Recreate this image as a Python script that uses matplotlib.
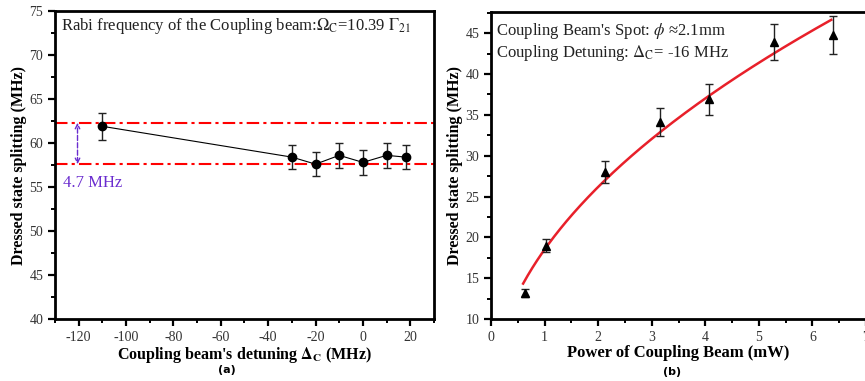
import numpy as np
import matplotlib
matplotlib.use("Agg")
import matplotlib.pyplot as plt
from matplotlib.ticker import MultipleLocator

plt.rcParams['font.family'] = ['Liberation Serif', 'DejaVu Serif']
plt.rcParams['mathtext.fontset'] = 'stix'
plt.rcParams['axes.unicode_minus'] = False

# Panel (a): splitting vs coupling detuning
det_a = [-110, -30, -20, -10, 0, 10, 18]
split_a = [61.9, 58.4, 57.6, 58.6, 57.8, 58.6, 58.4]
err_a = [1.5, 1.4, 1.4, 1.4, 1.4, 1.4, 1.4]
upper_line = 62.3
lower_line = 57.6

# Panel (b): splitting vs coupling power
power_b = [0.63, 1.02, 2.13, 3.15, 4.07, 5.28, 6.39]
split_b = [13.2, 19.0, 28.0, 34.1, 36.9, 43.9, 44.8]
err_b = [0.5, 0.8, 1.3, 1.7, 1.9, 2.2, 2.3]

fig = plt.figure(figsize=(8.65, 3.81), dpi=100)
ax1 = fig.add_axes([0.0636, 0.1627, 0.4381, 0.8083])
ax2 = fig.add_axes([0.5676, 0.1627, 0.4336, 0.8057])

def style(ax):
    for s in ax.spines.values():
        s.set_linewidth(2.0)
    ax.tick_params(which='both', direction='out', top=False, right=False,
                   labelsize=10, colors='black')
    ax.tick_params(which='major', length=5, width=1.6)
    ax.tick_params(which='minor', length=3, width=1.4)
    for lab in ax.get_xticklabels() + ax.get_yticklabels():
        lab.set_color('#333333')

dashdot = (0, (6, 2, 1.5, 2))

# ---- panel (a)
ax1.errorbar(det_a, split_a, yerr=err_a, fmt='o', color='black', ms=6,
             ecolor='#222222', elinewidth=1.0, capsize=3, capthick=1.0, zorder=3)
ax1.plot(det_a, split_a, '-', color='black', lw=0.8, zorder=2)
ax1.axhline(upper_line, color='red', lw=1.5, ls=dashdot, zorder=1)
ax1.axhline(lower_line, color='red', lw=1.5, ls=dashdot, zorder=1)
ax1.annotate('', xy=(-120.5, upper_line), xytext=(-120.5, lower_line),
             arrowprops=dict(arrowstyle='<->', ls='--', color='#6a2ccf', lw=1.0,
                             shrinkA=0, shrinkB=0, mutation_scale=8))
ax1.text(-126.8, 55.5, '4.7 MHz', color='#6a2ccf', fontsize=12, va='center', ha='left')
ax1.text(-127.5, 73.3,
         r'Rabi frequency of the Coupling beam:$\Omega_\mathrm{C}$=10.39 $\Gamma_{21}$',
         fontsize=12, color='#222222', va='center', ha='left')
ax1.set_xlim(-130, 30)
ax1.set_ylim(40, 75)
ax1.xaxis.set_major_locator(MultipleLocator(20))
ax1.xaxis.set_minor_locator(MultipleLocator(10))
ax1.yaxis.set_major_locator(MultipleLocator(5))
ax1.yaxis.set_minor_locator(MultipleLocator(2.5))
ax1.set_ylabel('Dressed state splitting (MHz)', fontsize=11.5, fontweight='bold', labelpad=2)
ax1.set_xlabel(r"Coupling beam's detuning $\mathbf{\Delta_C}$ (MHz)", fontsize=11.5,
               fontweight='bold', labelpad=1)
style(ax1)
fig.text(227/865, 1 - 370/381, '(a)', fontsize=8, fontweight='bold',
         family='DejaVu Sans', ha='center', va='center')

# ---- panel (b)
ax2.errorbar(power_b, split_b, yerr=err_b, fmt='^', color='black', ms=6,
             ecolor='#222222', elinewidth=1.0, capsize=3, capthick=1.0, zorder=3)
p = np.asarray(power_b)
yv = np.asarray(split_b)
a_fit = np.sum(yv * np.sqrt(p)) / np.sum(p)
pf = np.linspace(0.6, 6.35, 200)
ax2.plot(pf, a_fit * np.sqrt(pf), '-', color='#e8202a', lw=1.8, zorder=2)
ax2.text(0.1, 45.3, "Coupling Beam's Spot: $\\phi$ \u22482.1mm", fontsize=12,
         color='#222222', va='center', ha='left')
ax2.text(0.1, 42.6, r'Coupling Detuning: $\Delta_\mathrm{C}$= -16 MHz', fontsize=12,
         color='#222222', va='center', ha='left')
ax2.set_xlim(0, 7)
ax2.set_ylim(10, 47.6)
ax2.xaxis.set_major_locator(MultipleLocator(1))
ax2.xaxis.set_minor_locator(MultipleLocator(0.5))
ax2.yaxis.set_major_locator(MultipleLocator(5))
ax2.yaxis.set_minor_locator(MultipleLocator(2.5))
ax2.set_ylabel('Dressed state splitting (MHz)', fontsize=11.5, fontweight='bold', labelpad=2)
ax2.set_xlabel('Power of Coupling Beam (mW)', fontsize=12, fontweight='bold', labelpad=1)
style(ax2)
fig.text(672/865, 1 - 372/381, '(b)', fontsize=8, fontweight='bold',
         family='DejaVu Sans', ha='center', va='center')

fig.savefig('out.png', dpi=100)
